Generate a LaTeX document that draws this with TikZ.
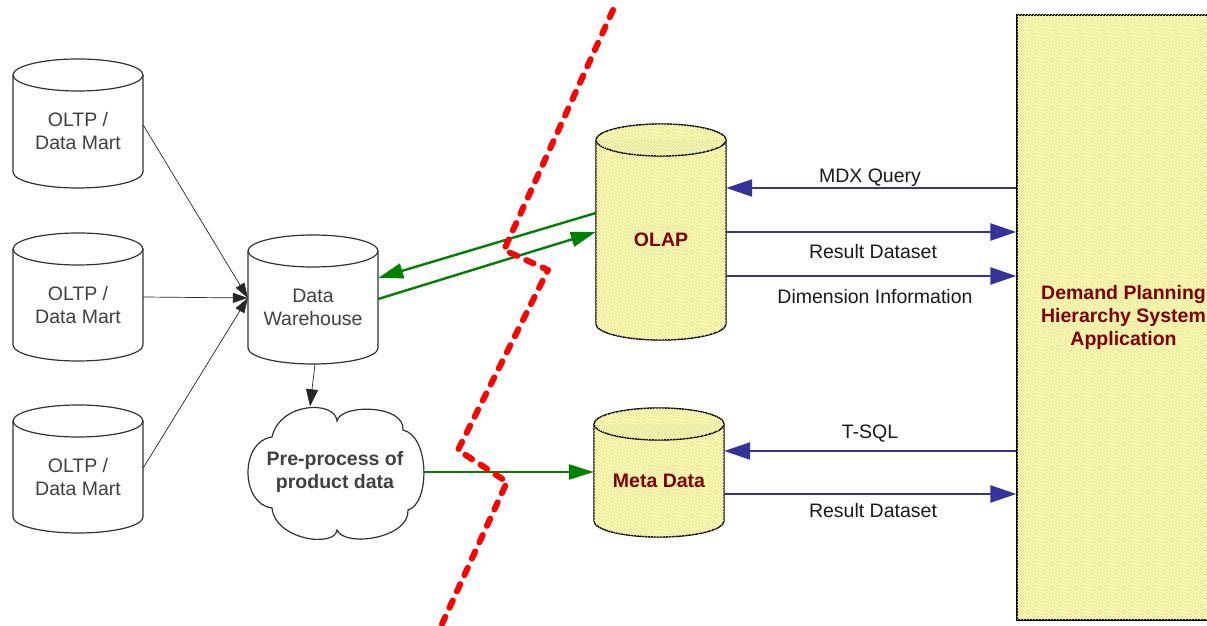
\documentclass[tikz,border=0pt]{standalone}
\usepackage{fontspec}
\setmainfont{Liberation Sans}
\usetikzlibrary{arrows.meta,patterns}
\definecolor{yfc}{RGB}{255,255,170}
\definecolor{hatch}{RGB}{222,222,170}
\definecolor{dred}{RGB}{128,0,0}
\definecolor{dgray}{RGB}{64,64,64}
\definecolor{txt}{RGB}{25,25,25}
\definecolor{ablue}{RGB}{51,51,153}
\definecolor{agreen}{RGB}{0,128,0}
\definecolor{cylgray}{RGB}{50,50,50}
\tikzset{
  x=1pt, y=1pt,
  reg/.style={font=\fontsize{19.5}{23}\selectfont},
  boldf/.style={font=\bfseries\fontsize{19.5}{23}\selectfont},
  lbl/.style={reg, text=txt, inner sep=0},
  cylbody/.style={inner sep=0, align=center},
  plaincyl/.style={draw=cylgray, line width=1.2pt, fill=white},
  yellowcyl/.style={draw=black, line width=1.4pt, fill=yfc, postaction={pattern=north east lines, pattern color=hatch}},
  thinarrow/.style={draw=black!85, line width=0.7pt, -{Triangle[length=15pt,width=10pt]}},
  garrow/.style={draw=agreen, line width=2.4pt, -{Triangle[length=25pt,width=15pt]}},
  barrow/.style={draw=ablue, line width=2.4pt, -{Triangle[length=26pt,width=17pt]}},
  border/.style={draw=red, line width=6pt, line cap=round, line join=round, dash pattern=on 8pt off 10pt},
}
% name, cx, top(img), bottom(img), width, cylinder style, text style, text
\newcommand\dbcyl[8]{%
  \pgfmathsetmacro\cxl{#2-#5/2}%
  \pgfmathsetmacro\cxr{#2+#5/2}%
  \pgfmathsetmacro\cyt{626-#3-16}%
  \pgfmathsetmacro\cyb{626-#4+16}%
  \pgfmathsetmacro\crx{#5/2}%
  \pgfmathsetmacro\chh{\cyt-\cyb+16}%
  \pgfmathsetmacro\ccy{(\cyt+\cyb-16)/2}%
  \draw[#6] (\cxl,\cyt) -- (\cxl,\cyb) arc[start angle=180,end angle=360,x radius=\crx,y radius=16] -- (\cxr,\cyt) arc[start angle=0,end angle=180,x radius=\crx,y radius=16] -- cycle;
  \draw[#6, fill=none, postaction={}] (\cxl,\cyt) arc[start angle=180,end angle=360,x radius=\crx,y radius=16];
  \node[cylbody, #7, minimum width=#5pt, minimum height=\chh pt] (#1) at (#2,\ccy) {#8};
}
\begin{document}
\begin{tikzpicture}
\useasboundingbox (0,0) rectangle (1207,626);
\clip (0,0) rectangle (1207,626);

% application box
\node[draw=black, line width=1.4pt, fill=yfc, postaction={pattern=north east lines, pattern color=hatch},
      minimum width=213pt, minimum height=605pt, inner sep=0, align=center, boldf, text=dred]
      (app) at (1123.5,308.5) {Demand Planning\\Hierarchy System\\Application};

% source databases
\dbcyl{oltpa}{78}{59}{188}{130}{plaincyl}{reg, text=dgray}{OLTP /\\Data Mart}
\dbcyl{oltpb}{78}{233}{361}{130}{plaincyl}{reg, text=dgray}{OLTP /\\Data Mart}
\dbcyl{oltpc}{78}{405}{533}{130}{plaincyl}{reg, text=dgray}{OLTP /\\Data Mart}
\dbcyl{dw}{313}{235}{364}{130}{plaincyl}{reg, text=dgray}{Data\\Warehouse}
\dbcyl{olap}{661}{124}{340}{130}{yellowcyl}{boldf, text=dred}{OLAP}
\dbcyl{meta}{659}{408}{537}{130}{yellowcyl}{boldf, text=dred}{Meta Data}

% cloud
\draw[draw=cylgray, line width=1.2pt, fill=white]
  (272,189) .. controls (280,224) and (335,226) .. (337,205)
  .. controls (340,222) and (405,222) .. (403,196)
  .. controls (430,190) and (430,122) .. (408,116)
  .. controls (410,88) and (345,78) .. (337,96)
  .. controls (335,78) and (275,86) .. (272,118)
  .. controls (240,122) and (240,185) .. (272,189) -- cycle;
\node[minimum width=176pt, minimum height=131pt, inner sep=0, align=center, boldf, text=dgray]
      (cloud) at (335,154) {Pre-process of\\product data};

% black arrows
\draw[thinarrow] ([yshift=6.5pt]oltpa.east) -- ([yshift=9.5pt]dw.west);
\draw[thinarrow] ([yshift=8pt]oltpb.east) -- ([yshift=9.5pt]dw.west);
\draw[thinarrow] ([yshift=9pt]oltpc.east) -- ([yshift=9.5pt]dw.west);
\draw[thinarrow, -{Triangle[length=17pt,width=12pt]}] ([xshift=2pt]dw.south) -- ([xshift=-25pt]cloud.north);

% green arrows
\draw[garrow] ([yshift=27pt]olap.west) -- ([yshift=29.5pt]dw.east);
\draw[garrow] ([yshift=8.5pt]dw.east) -- ([yshift=8pt]olap.west);
\draw[garrow] (cloud.east) -- (cloud.east -| meta.west);

% blue arrows
\draw[barrow] ([yshift=52pt]olap.east -| app.west) -- ([yshift=52pt]olap.east);
\draw[barrow] ([yshift=8pt]olap.east) -- ([yshift=8pt]olap.east -| app.west);
\draw[barrow] ([yshift=-36pt]olap.east) -- ([yshift=-36pt]olap.east -| app.west);
\draw[barrow] ([yshift=29.5pt]meta.east -| app.west) -- ([yshift=29.5pt]meta.east);
\draw[barrow] ([yshift=-13.5pt]meta.east) -- ([yshift=-13.5pt]meta.east -| app.west);

% labels
\node[lbl] (lmdx) at (870,448) {MDX Query};
\node[lbl] (lres) at (873,374) {Result Dataset};
\node[lbl] (ldim) at (875,329) {Dimension Information};
\node[lbl] (ltsql) at (870,192) {T-SQL};
\node[lbl] (lres2) at (873,115) {Result Dataset};

% boundary
\draw[border] (613,616) -- (504,376) -- (548,356) -- (458,176) -- (507,144) -- (442,2);
\end{tikzpicture}
\end{document}
